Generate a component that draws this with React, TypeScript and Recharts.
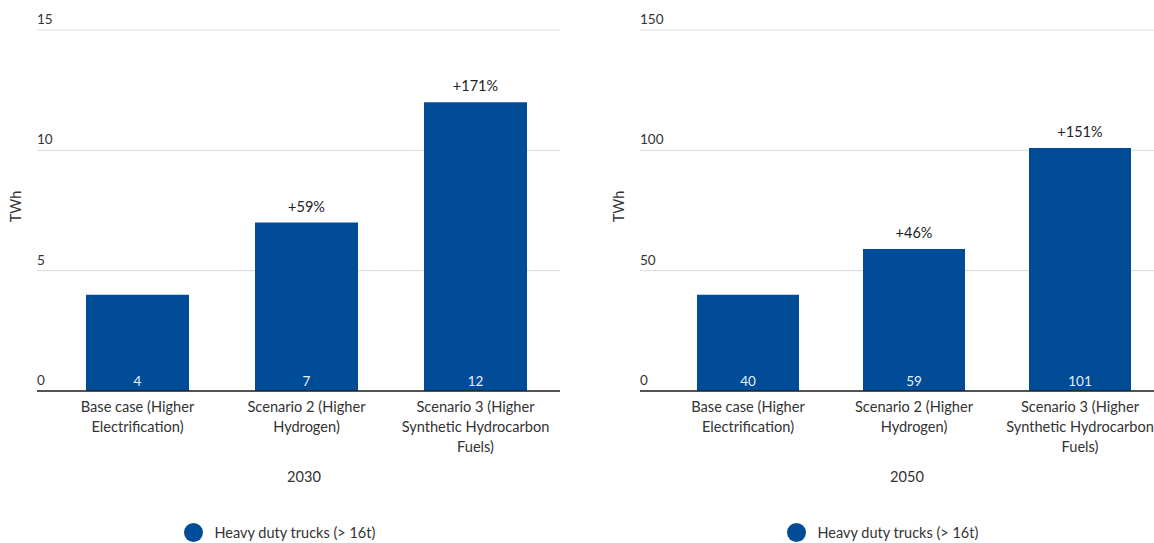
import React from "react";
import { BarChart, Bar, XAxis, YAxis, CartesianGrid, LabelList, Legend } from "recharts";

const categories = [
  "Base case (Higher Electrification)",
  "Scenario 2 (Higher Hydrogen)",
  "Scenario 3 (Higher Synthetic Hydrocarbon Fuels)",
];
const values2030 = [4, 7, 12];
const values2050 = [40, 59, 101];
const change2030 = ["", "+59%", "+171%"];
const change2050 = ["", "+46%", "+151%"];
const ticks2030 = [0, 5, 10, 15];
const ticks2050 = [0, 50, 100, 150];
const seriesName = "Heavy duty trucks (> 16t)";

const FONT = "Lato, 'Open Sans', sans-serif";
const BAR_COLOR = "#004c97";
const TEXT_COLOR = "#333333";

const PLOT_TOP = 30;
const PLOT_BOTTOM = 391;
const CHART_H = 543;
const LEGEND_H = 32;

function wrap(label: string, maxChars: number): string[] {
  const words = label.split(" ");
  const lines: string[] = [];
  let cur = "";
  for (const w of words) {
    const next = cur ? cur + " " + w : w;
    if (next.length > maxChars && cur) {
      lines.push(cur);
      cur = w;
    } else {
      cur = next;
    }
  }
  if (cur) lines.push(cur);
  return lines;
}

type PanelProps = {
  values: number[];
  changes: string[];
  ticks: number[];
  year: string;
  width: number;
  left: number;
  padLeft: number;
  right: number;
  barSize: number;
};

function Panel(p: PanelProps) {
  const data = categories.map((c, i) => ({ name: c, value: p.values[i], change: p.changes[i] }));
  const plotRight = p.width - p.right;
  const plotCenter = (p.left + plotRight) / 2;

  const CatTick = (props: any) => {
    const { x, payload } = props;
    const lines = wrap(String(payload.value), 22);
    return (
      <text x={x} y={PLOT_BOTTOM + 21} textAnchor="middle" fontFamily={FONT} fontSize={14.6} fill={TEXT_COLOR}>
        {lines.map((l, i) => (
          <tspan key={i} x={x} dy={i === 0 ? 0 : 20}>
            {l}
          </tspan>
        ))}
      </text>
    );
  };

  const YTick = (props: any) => {
    const { y, payload } = props;
    return (
      <text x={p.left} y={y - 6} textAnchor="start" fontFamily={FONT} fontSize={13.5} fill={TEXT_COLOR}>
        {payload.value}
      </text>
    );
  };

  const ChangeLabel = (props: any) => {
    const { x, y, width, value } = props;
    if (!value) return null;
    return (
      <text x={x + width / 2} y={y - 11} textAnchor="middle" fontFamily={FONT} fontSize={14.5} fill="#222">
        {value}
      </text>
    );
  };

  const ValueLabel = (props: any) => {
    const { x, y, width, height, value } = props;
    return (
      <text x={x + width / 2} y={y + height - 5} textAnchor="middle" fontFamily={FONT} fontSize={13.5} fill="#e8eef7">
        {value}
      </text>
    );
  };

  const LegendContent = () => (
    <div style={{ position: "relative", width: p.width, height: LEGEND_H }}>
      <div
        style={{
          position: "absolute",
          left: plotCenter - 115,
          top: 12,
          display: "flex",
          alignItems: "center",
          fontFamily: FONT,
          fontSize: 14.5,
          color: TEXT_COLOR,
          whiteSpace: "nowrap",
        }}
      >
        <span
          style={{
            display: "inline-block",
            width: 19,
            height: 19,
            borderRadius: "50%",
            background: BAR_COLOR,
            marginRight: 12,
          }}
        />
        <span>{seriesName}</span>
      </div>
    </div>
  );

  const xAxisH = CHART_H - PLOT_BOTTOM - LEGEND_H;

  return (
    <BarChart
      width={p.width}
      height={CHART_H}
      data={data}
      margin={{ top: PLOT_TOP, right: p.right, left: p.left - 1, bottom: 0 }}
    >
      <CartesianGrid horizontal vertical={false} stroke="#d9d9d9" />
      <XAxis
        dataKey="name"
        height={xAxisH}
        interval={0}
        tickLine={false}
        axisLine={{ stroke: "#222", strokeWidth: 1.5 }}
        padding={{ left: p.padLeft, right: 0 }}
        tick={<CatTick />}
        label={{
          content: () => (
            <text x={plotCenter + 5.5} y={PLOT_BOTTOM + 91} textAnchor="middle" fontFamily={FONT} fontSize={14.6} fill={TEXT_COLOR}>
              {p.year}
            </text>
          ),
        }}
      />
      <YAxis
        width={1}
        domain={[p.ticks[0], p.ticks[p.ticks.length - 1]]}
        ticks={p.ticks}
        interval={0}
        axisLine={false}
        tickLine={false}
        tick={<YTick />}
        label={{
          content: () => (
            <text
              x={0}
              y={0}
              transform={`translate(${p.left - 16}, ${(PLOT_TOP + PLOT_BOTTOM) / 2 - 4}) rotate(-90)`}
              textAnchor="middle"
              fontFamily={FONT}
              fontSize={14.5}
              fill={TEXT_COLOR}
            >
              TWh
            </text>
          ),
        }}
      />
      <Legend verticalAlign="bottom" height={LEGEND_H} content={<LegendContent />} wrapperStyle={{ left: 0, width: p.width }} />
      <Bar dataKey="value" name={seriesName} fill={BAR_COLOR} barSize={p.barSize} isAnimationActive={false}>
        <LabelList dataKey="value" content={<ValueLabel />} />
        <LabelList dataKey="change" content={<ChangeLabel />} />
      </Bar>
    </BarChart>
  );
}

export default function App() {
  return (
    <div style={{ position: "absolute", left: 0, top: 0, width: 1154, height: 543, overflow: "hidden", background: "#fff" }}>
      <div style={{ position: "absolute", left: 0, top: 0 }}>
        <Panel values={values2030} changes={change2030} ticks={ticks2030} year="2030" width={577} left={37} padLeft={16} right={17} barSize={103} />
      </div>
      <div style={{ position: "absolute", left: 577, top: 0 }}>
        <Panel values={values2050} changes={change2050} ticks={ticks2050} year="2050" width={586} left={63} padLeft={25} right={0} barSize={102} />
      </div>
    </div>
  );
}
